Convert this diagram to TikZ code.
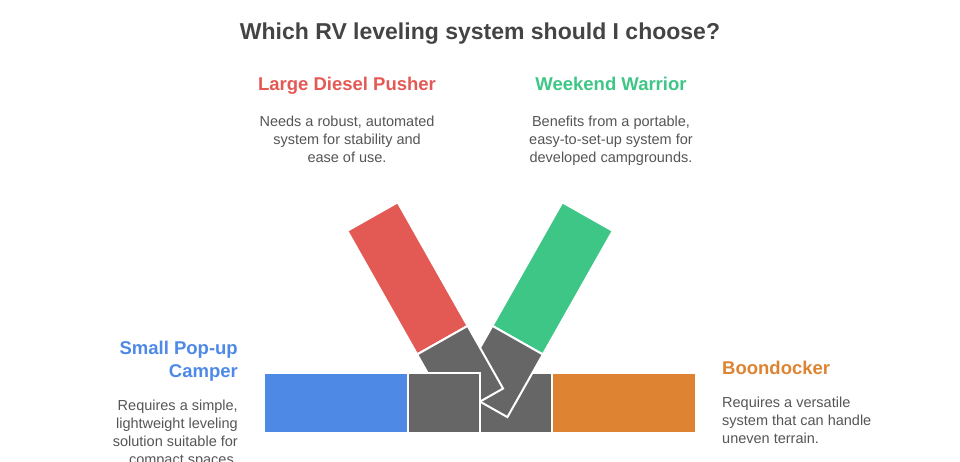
\documentclass[tikz,border=0pt]{standalone}
\usepackage{fontspec}
\setmainfont{Liberation Sans}
\usepackage{xcolor}
\usepackage{tikz}

\definecolor{pusherred}{HTML}{E35A55}
\definecolor{warriorgreen}{HTML}{3DC685}
\definecolor{popupblue}{HTML}{4E89E6}
\definecolor{boondorange}{HTML}{DD8331}
\definecolor{levergray}{HTML}{666666}
\definecolor{titlegray}{HTML}{444444}
\definecolor{bodygray}{HTML}{555555}

\tikzset{
	bar/.style = {draw = white, line width = 2pt},
	heading/.style = {font = \fontsize{18.5}{22.5}\selectfont\bfseries, inner sep = 0pt},
	blurb/.style = {font = \fontsize{14.5}{18}\selectfont, text = bodygray, inner sep = 0pt}
}

\begin{document}
\begin{tikzpicture}[x = 1pt, y = -1pt]
			\def\L{142};
			\def\l{72};
			\def\w{58};
			\def\tilt{60.5};
			
			\useasboundingbox (0,0) rectangle (960,462);
			
			\coordinate (red top) at (397.7,202.3);
			\coordinate (green top) at (562.3,202.3);
			
			\fill [popupblue] (265,374) rectangle (407,432);
			\fill [boondorange] (553,374) rectangle (695,432);
			\filldraw [fill = levergray, bar] (480,373) rectangle (552,433);
			
			\begin{scope}[shift = {(green top)}, xscale = -1, rotate = -\tilt]
				\filldraw [fill = warriorgreen, bar] (0,0) rectangle (\L,\w);
				\filldraw [fill = levergray, bar] (\L,0) rectangle (\L+\l,\w);
			\end{scope}
			
			\begin{scope}[shift = {(red top)}, rotate = -\tilt]
				\filldraw [fill = pusherred, bar] (0,0) rectangle (\L,\w);
				\filldraw [fill = levergray, bar] (\L,0) rectangle (\L+\l,\w);
			\end{scope}
			
			\filldraw [fill = levergray, bar] (408,373) rectangle (480,433);
			
			\node [font = \fontsize{23}{27}\selectfont\bfseries, text = titlegray, anchor = base] (title) at (480,40) {Which RV leveling system should I choose?};
			
			\node [heading, text = pusherred, anchor = base] (pusher) at (347,91) {Large Diesel Pusher};
			\node [blurb, align = center, anchor = north] (pusher text) at (347,115.5) {Needs a robust, automated\\system for stability and\\ease of use.};
			
			\node [heading, text = warriorgreen, anchor = base] (warrior) at (611,91) {Weekend Warrior};
			\node [blurb, align = center, anchor = north] (warrior text) at (611,115.5) {Benefits from a portable,\\easy-to-set-up system for\\developed campgrounds.};
			
			\node [heading, text = popupblue, align = right, anchor = north east] (popup) at (238,341) {Small Pop-up\\Camper};
			\node [blurb, align = right, anchor = north east] (popup text) at (238,400) {Requires a simple,\\lightweight leveling\\solution suitable for\\compact spaces.};
			
			\node [heading, text = boondorange, anchor = base west] (boondocker) at (722,374) {Boondocker};
			\node [blurb, align = left, anchor = north west] (boondocker text) at (722,396.5) {Requires a versatile\\system that can handle\\uneven terrain.};
		\end{tikzpicture}
\end{document}
